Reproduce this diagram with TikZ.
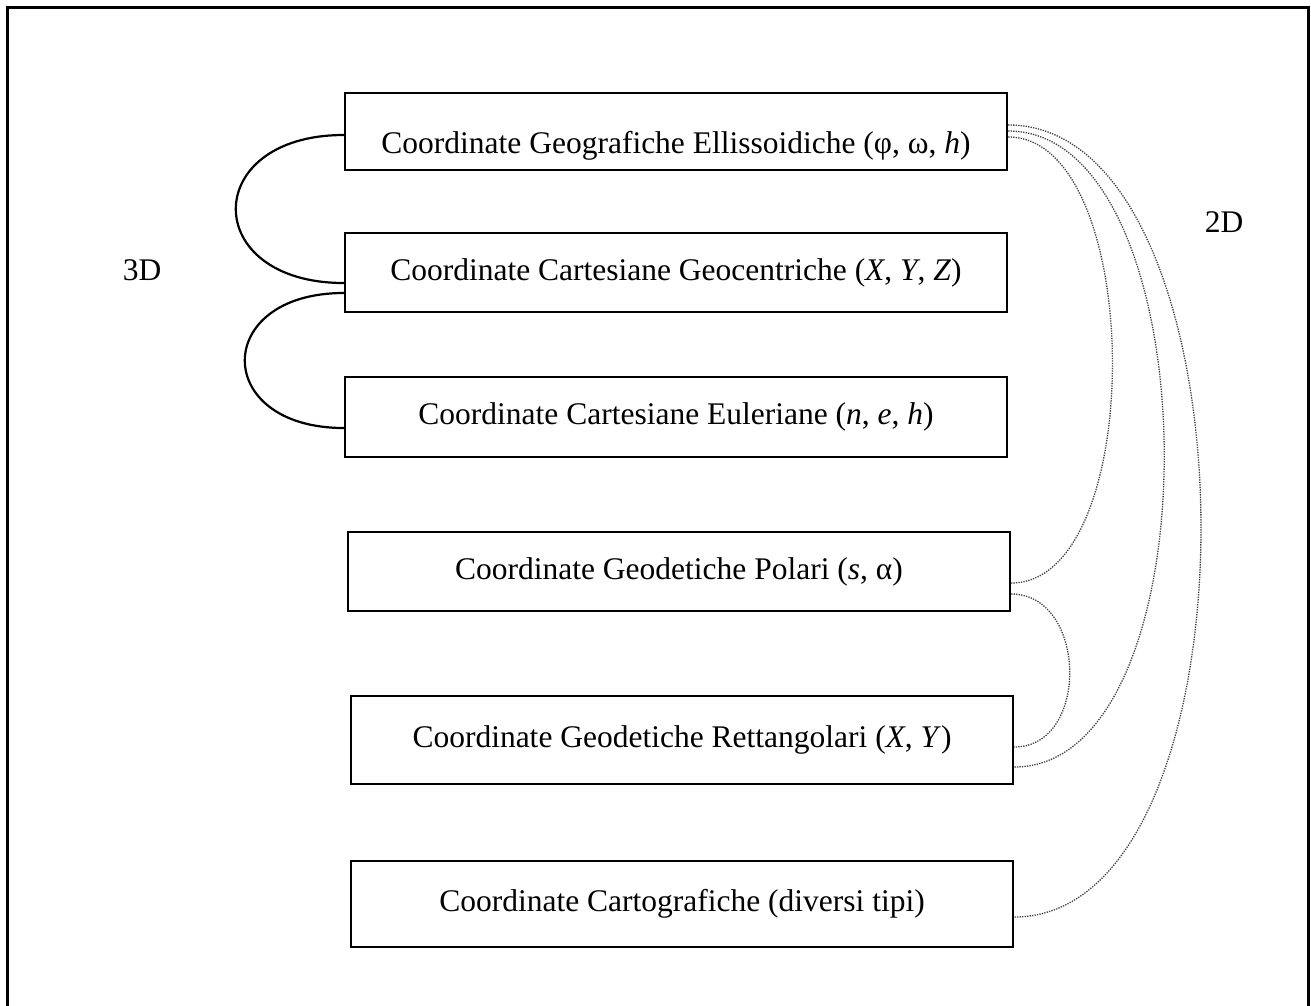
\documentclass[tikz,border=0pt]{standalone}
\usepackage{fontspec}
\setmainfont{Liberation Serif}
\begin{document}
\begin{tikzpicture}[x=1pt,y=-1pt,
  box/.style={draw=black, line width=2.4pt, rectangle, inner sep=0pt,
    minimum width=662pt, font=\fontsize{31.5}{38}\selectfont},
  lbl/.style={inner sep=0pt, font=\fontsize{31.5}{38}\selectfont},
  solidarc/.style={draw=black, line width=2.2pt},
  dotarc/.style={draw=black!75, line width=1.3pt, dash pattern=on 1.3pt off 1.2pt}]
\useasboundingbox (0,0) rectangle (1311,1005);
% outer frame (open at the bottom)
\draw[line width=3pt, line join=miter] (7,1006) -- (7,7) -- (1308,7) -- (1308,1006);
% boxes
\node[box, minimum height=77pt, text height=50pt, text depth=7pt] (b1) at (676,131.5)
  {Coordinate Geografiche Ellissoidiche (φ, ω, \textit{h})};
\node[box, minimum height=79pt] (b2) at (676,272.5)
  {Coordinate Cartesiane Geocentriche (\textit{X}, \textit{Y}, \textit{Z})};
\node[box, minimum height=80pt] (b3) at (676,417)
  {Coordinate Cartesiane Euleriane (\textit{n}, \textit{e}, \textit{h})};
\node[box, minimum height=79pt] (b4) at (679,571.5)
  {Coordinate Geodetiche Polari (\textit{s}, α)};
\node[box, minimum height=88pt] (b5) at (682,740)
  {Coordinate Geodetiche Rettangolari (\textit{X}, \textit{Y})};
\node[box, minimum height=86pt] (b6) at (682,904)
  {Coordinate Cartografiche (diversi tipi)};
% labels
\node[lbl] (l3d) at (142,270) {3D};
\node[lbl] (l2d) at (1224,222) {2D};
% 3D connectors
\draw[solidarc] (b1.west |- 0,135) .. controls +(-144,0) and +(-144,0) .. (b2.west |- 0,283);
\draw[solidarc] (b2.west |- 0,293) .. controls +(-132,0) and +(-132,0) .. (b3.west |- 0,428);
% 2D connectors
\draw[dotarc] (b1.east |- 0,137) .. controls +(137,0) and +(137,0) .. (b4.east |- 0,583);
\draw[dotarc] (b1.east |- 0,131) .. controls +(204,0) and +(204,0) .. (b5.east |- 0,767);
\draw[dotarc] (b1.east |- 0,125) .. controls +(253,0) and +(253,0) .. (b6.east |- 0,917);
\draw[dotarc] (b4.east |- 0,594) .. controls +(76,0) and +(76,0) .. (b5.east |- 0,747);
\end{tikzpicture}
\end{document}
